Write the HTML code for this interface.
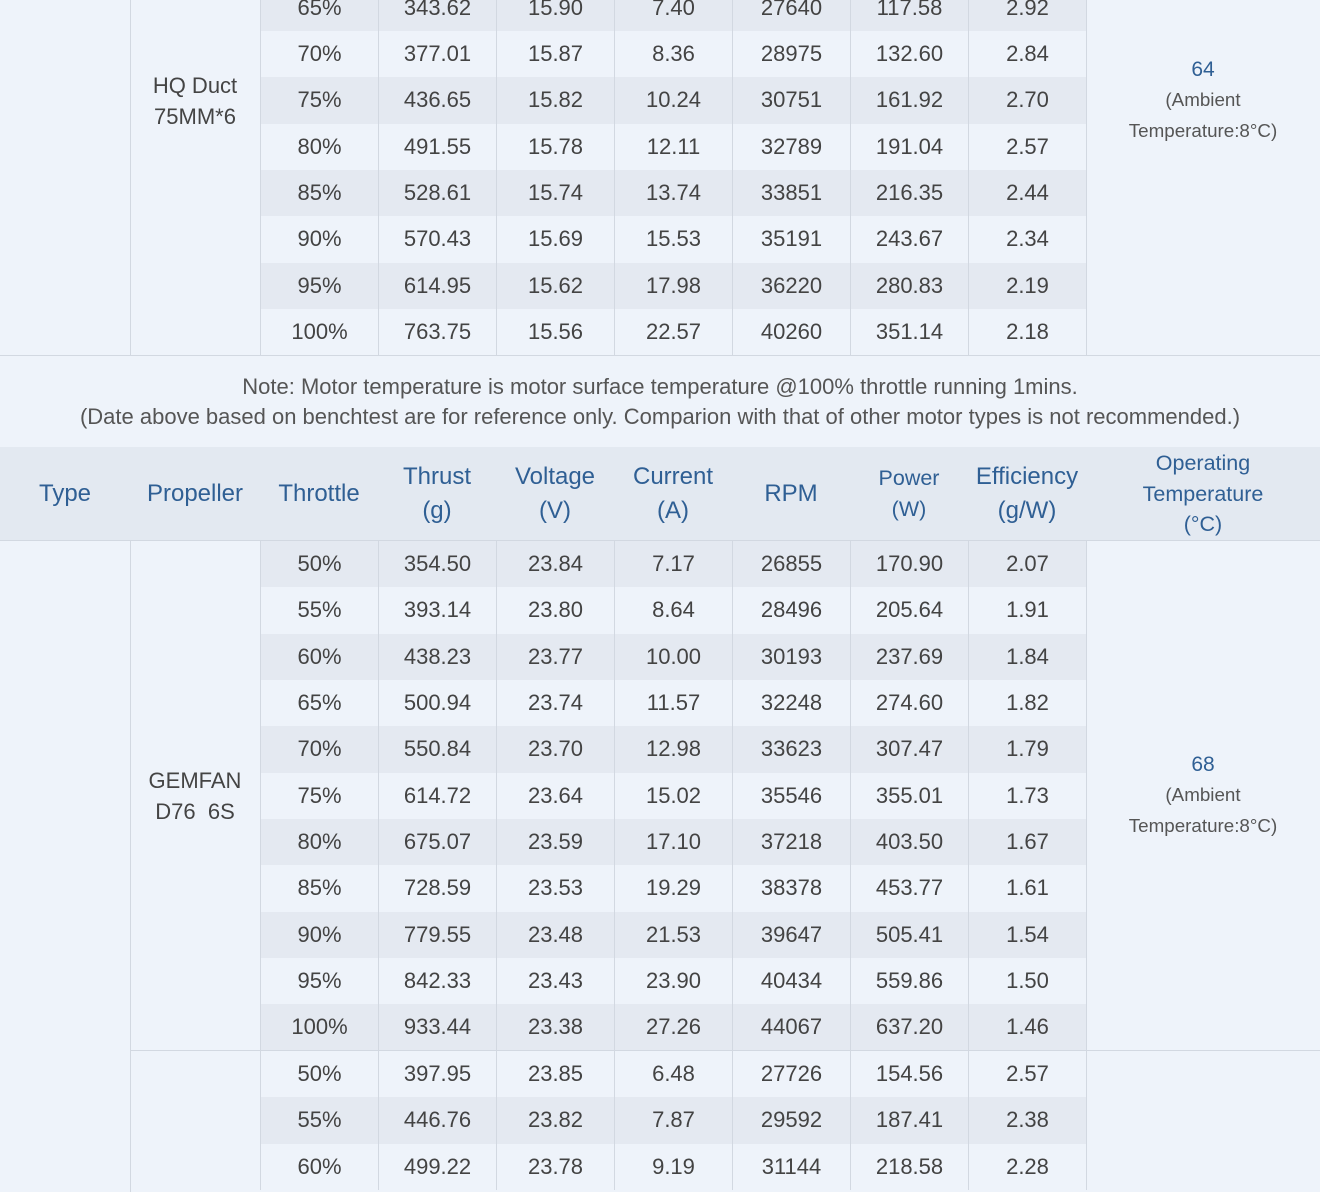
<!DOCTYPE html>
<html><head><meta charset="utf-8"><style>
*{margin:0;padding:0;box-sizing:border-box}
html,body{width:1320px;height:1192px;overflow:hidden;background:#eef3fa;font-family:"Liberation Sans",sans-serif;color:#434343;position:relative}
.rows{position:absolute;left:260px;width:827px}
.r{display:flex;height:46.35px;line-height:46.35px;font-size:22px;text-align:center}
.r.d{background:#e4e9f1}
.r div{width:118px;border-left:1px solid #d2d8e1;white-space:nowrap}
.r div:last-child{border-right:1px solid #d2d8e1;width:119px}
.hl{position:absolute;height:1px;background:#d2d8e1}
.vl{position:absolute;width:1px;background:#d2d8e1}
.hdr{position:absolute;top:447px;left:0;width:1320px;height:94px;background:#e3e9f1;border-bottom:1px solid #d2d8e1}
.h{position:absolute;top:447px;height:94px;display:flex;align-items:center;justify-content:center;text-align:center;color:#2f5f94;font-size:24px;line-height:34px}
.note{position:absolute;left:0;width:1320px;text-align:center;font-size:22px;color:#555;line-height:30px;white-space:nowrap}
.prop{position:absolute;left:130px;width:130px;text-align:center;font-size:22px;line-height:31px;color:#444;white-space:pre}
.tl{position:absolute;left:1086px;width:234px;text-align:center;white-space:nowrap}
.tn{font-size:21px;color:#2f5f94;line-height:30px}
.ts{font-size:18.8px;color:#555;line-height:30px}
</style></head><body>

<!-- Section 1 -->
<div class="rows" style="top:-15.4px">
<div class="r d"><div>65%</div><div>343.62</div><div>15.90</div><div>7.40</div><div>27640</div><div>117.58</div><div>2.92</div></div>
<div class="r"><div>70%</div><div>377.01</div><div>15.87</div><div>8.36</div><div>28975</div><div>132.60</div><div>2.84</div></div>
<div class="r d"><div>75%</div><div>436.65</div><div>15.82</div><div>10.24</div><div>30751</div><div>161.92</div><div>2.70</div></div>
<div class="r"><div>80%</div><div>491.55</div><div>15.78</div><div>12.11</div><div>32789</div><div>191.04</div><div>2.57</div></div>
<div class="r d"><div>85%</div><div>528.61</div><div>15.74</div><div>13.74</div><div>33851</div><div>216.35</div><div>2.44</div></div>
<div class="r"><div>90%</div><div>570.43</div><div>15.69</div><div>15.53</div><div>35191</div><div>243.67</div><div>2.34</div></div>
<div class="r d"><div>95%</div><div>614.95</div><div>15.62</div><div>17.98</div><div>36220</div><div>280.83</div><div>2.19</div></div>
<div class="r"><div>100%</div><div>763.75</div><div>15.56</div><div>22.57</div><div>40260</div><div>351.14</div><div>2.18</div></div>
</div>
<div class="vl" style="left:130px;top:0;height:355px"></div>
<div class="hl" style="left:0;top:355px;width:1320px"></div>
<div class="prop" style="top:69.5px">HQ Duct
75MM*6</div>
<div class="tl tn" style="top:55px">64</div>
<div class="tl ts" style="top:85px">(Ambient</div>
<div class="tl ts" style="top:116px">Temperature:8°C)</div>

<!-- Note -->
<div class="note" style="top:372px">Note: Motor temperature is motor surface temperature @100% throttle running 1mins.</div>
<div class="note" style="top:402px">(Date above based on benchtest are for reference only. Comparion with that of other motor types is not recommended.)</div>

<!-- Header -->
<div class="hdr"></div>
<div class="h" style="left:0;width:130px">Type</div>
<div class="h" style="left:130px;width:130px">Propeller</div>
<div class="h" style="left:260px;width:118px">Throttle</div>
<div class="h" style="left:378px;width:118px">Thrust<br>(g)</div>
<div class="h" style="left:496px;width:118px">Voltage<br>(V)</div>
<div class="h" style="left:614px;width:118px">Current<br>(A)</div>
<div class="h" style="left:732px;width:118px">RPM</div>
<div class="h" style="left:850px;width:118px;font-size:21.5px;line-height:31px">Power<br>(W)</div>
<div class="h" style="left:968px;width:118px">Efficiency<br>(g/W)</div>
<div class="h" style="left:1086px;width:234px;font-size:21.5px;line-height:30.5px">Operating<br>Temperature<br>(°C)</div>

<!-- Section 2 -->
<div class="rows" style="top:541px">
<div class="r d"><div>50%</div><div>354.50</div><div>23.84</div><div>7.17</div><div>26855</div><div>170.90</div><div>2.07</div></div>
<div class="r"><div>55%</div><div>393.14</div><div>23.80</div><div>8.64</div><div>28496</div><div>205.64</div><div>1.91</div></div>
<div class="r d"><div>60%</div><div>438.23</div><div>23.77</div><div>10.00</div><div>30193</div><div>237.69</div><div>1.84</div></div>
<div class="r"><div>65%</div><div>500.94</div><div>23.74</div><div>11.57</div><div>32248</div><div>274.60</div><div>1.82</div></div>
<div class="r d"><div>70%</div><div>550.84</div><div>23.70</div><div>12.98</div><div>33623</div><div>307.47</div><div>1.79</div></div>
<div class="r"><div>75%</div><div>614.72</div><div>23.64</div><div>15.02</div><div>35546</div><div>355.01</div><div>1.73</div></div>
<div class="r d"><div>80%</div><div>675.07</div><div>23.59</div><div>17.10</div><div>37218</div><div>403.50</div><div>1.67</div></div>
<div class="r"><div>85%</div><div>728.59</div><div>23.53</div><div>19.29</div><div>38378</div><div>453.77</div><div>1.61</div></div>
<div class="r d"><div>90%</div><div>779.55</div><div>23.48</div><div>21.53</div><div>39647</div><div>505.41</div><div>1.54</div></div>
<div class="r"><div>95%</div><div>842.33</div><div>23.43</div><div>23.90</div><div>40434</div><div>559.86</div><div>1.50</div></div>
<div class="r d"><div>100%</div><div>933.44</div><div>23.38</div><div>27.26</div><div>44067</div><div>637.20</div><div>1.46</div></div>
</div>
<div class="prop" style="top:764.5px">GEMFAN
D76  6S</div>
<div class="tl tn" style="top:750px">68</div>
<div class="tl ts" style="top:780px">(Ambient</div>
<div class="tl ts" style="top:811px">Temperature:8°C)</div>
<div class="hl" style="left:130px;top:1050px;width:1190px"></div>

<!-- Section 3 -->
<div class="rows" style="top:1051px">
<div class="r"><div>50%</div><div>397.95</div><div>23.85</div><div>6.48</div><div>27726</div><div>154.56</div><div>2.57</div></div>
<div class="r d"><div>55%</div><div>446.76</div><div>23.82</div><div>7.87</div><div>29592</div><div>187.41</div><div>2.38</div></div>
<div class="r"><div>60%</div><div>499.22</div><div>23.78</div><div>9.19</div><div>31144</div><div>218.58</div><div>2.28</div></div>
</div>
<div class="vl" style="left:130px;top:541px;height:651px"></div>

</body></html>
